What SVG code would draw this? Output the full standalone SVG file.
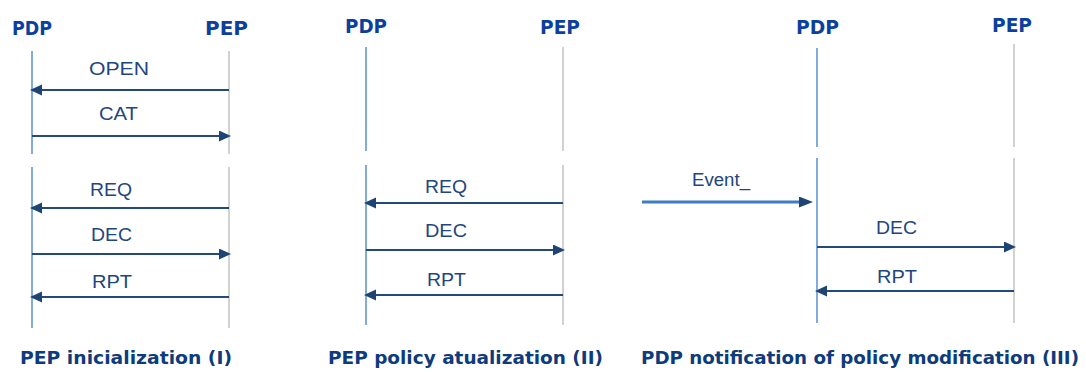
<svg xmlns="http://www.w3.org/2000/svg" width="1086" height="372" viewBox="0 0 1086 372">
  <style>
    .hdr { font-family: "DejaVu Sans", Verdana, sans-serif; font-weight: bold; font-size: 19px; fill: #0c3f9e; }
    .ttl { font-family: "DejaVu Sans", Verdana, sans-serif; font-weight: bold; font-size: 18.5px; fill: #0d3b7c; }
    .lbl { font-family: "Liberation Sans", Arial, sans-serif; font-size: 18px; fill: #21467f; text-anchor: middle; }
    .pdp { stroke: #5b8fd2; stroke-width: 1.5; fill: none; }
    .pep { stroke: #c4c4c4; stroke-width: 1.5; fill: none; }
    .msg { stroke: #234a7a; stroke-width: 2; fill: none; marker-end: url(#head); }
    .evt { stroke: #3e7dc6; stroke-width: 3; fill: none; marker-end: url(#headEvt); }
  </style>
  <defs>
    <marker id="head" markerUnits="userSpaceOnUse" markerWidth="12" markerHeight="12" refX="5" refY="5.5" orient="auto">
      <path d="M0,0 L12,5.5 L0,11 z" fill="#1e4474"/>
    </marker>
    <marker id="headEvt" markerUnits="userSpaceOnUse" markerWidth="14" markerHeight="12" refX="9" refY="5.5" orient="auto">
      <path d="M0,0 L14,5.5 L0,11 z" fill="#1e4474"/>
    </marker>
  </defs>
  <rect width="1086" height="372" fill="#ffffff"/>

  <!-- Scenario I: PEP initialization -->
  <g id="s1-pdp">
    <text class="hdr" x="12" y="35" textLength="40" lengthAdjust="spacingAndGlyphs">PDP</text>
    <path class="pdp" d="M32,51 V154 M32,167 V328"/>
  </g>
  <g id="s1-pep">
    <text class="hdr" x="205" y="35" textLength="43" lengthAdjust="spacingAndGlyphs">PEP</text>
    <path class="pep" d="M229,51 V154 M229,167 V328"/>
  </g>

  <!-- Scenario II: PEP policy update -->
  <g id="s2-pdp">
    <text class="hdr" x="345" y="33" textLength="42" lengthAdjust="spacingAndGlyphs">PDP</text>
    <path class="pdp" d="M366,47 V151 M366,165 V325"/>
  </g>
  <g id="s2-pep">
    <text class="hdr" x="540" y="34" textLength="40" lengthAdjust="spacingAndGlyphs">PEP</text>
    <path class="pep" d="M563,47 V151 M563,165 V325"/>
  </g>

  <!-- Scenario III: PDP notification -->
  <g id="s3-pdp">
    <text class="hdr" x="796" y="34" textLength="43" lengthAdjust="spacingAndGlyphs">PDP</text>
    <path class="pdp" d="M817,48 V147 M817,158 V323"/>
  </g>
  <g id="s3-pep">
    <text class="hdr" x="992" y="32" textLength="40" lengthAdjust="spacingAndGlyphs">PEP</text>
    <path class="pep" d="M1014,44 V147 M1014,158 V323"/>
  </g>

  <!-- Messages -->
  <g id="connectors">
    <path class="msg" d="M229,90 H37"/>
    <text class="lbl" x="119" y="75" textLength="60" lengthAdjust="spacingAndGlyphs">OPEN</text>
    <path class="msg" d="M32,136 H224"/>
    <text class="lbl" x="118.5" y="120" textLength="39" lengthAdjust="spacingAndGlyphs">CAT</text>
    <path class="msg" d="M229,208 H37"/>
    <text class="lbl" x="111" y="196" textLength="42" lengthAdjust="spacingAndGlyphs">REQ</text>
    <path class="msg" d="M32,254 H224"/>
    <text class="lbl" x="111.5" y="241" textLength="41" lengthAdjust="spacingAndGlyphs">DEC</text>
    <path class="msg" d="M229,297 H37"/>
    <text class="lbl" x="112" y="288" textLength="40" lengthAdjust="spacingAndGlyphs">RPT</text>

    <path class="msg" d="M563,203 H371"/>
    <text class="lbl" x="446" y="193" textLength="42" lengthAdjust="spacingAndGlyphs">REQ</text>
    <path class="msg" d="M366,250 H558"/>
    <text class="lbl" x="446" y="237" textLength="42" lengthAdjust="spacingAndGlyphs">DEC</text>
    <path class="msg" d="M563,295 H371"/>
    <text class="lbl" x="446.5" y="286" textLength="39" lengthAdjust="spacingAndGlyphs">RPT</text>

    <path class="evt" d="M642,202 H808"/>
    <text class="lbl" x="721" y="186" textLength="58" lengthAdjust="spacingAndGlyphs">Event_</text>
    <path class="msg" d="M817,247 H1009"/>
    <text class="lbl" x="896.5" y="234" textLength="41" lengthAdjust="spacingAndGlyphs">DEC</text>
    <path class="msg" d="M1014,291 H822"/>
    <text class="lbl" x="897" y="283" textLength="40" lengthAdjust="spacingAndGlyphs">RPT</text>
  </g>

  <!-- Captions -->
  <text class="ttl" x="20" y="364" textLength="212" lengthAdjust="spacingAndGlyphs">PEP inicialization (I)</text>
  <text class="ttl" x="328" y="364" textLength="275" lengthAdjust="spacingAndGlyphs">PEP policy atualization (II)</text>
  <text class="ttl" x="641" y="364" textLength="438" lengthAdjust="spacingAndGlyphs">PDP notification of policy modification (III)</text>
</svg>
